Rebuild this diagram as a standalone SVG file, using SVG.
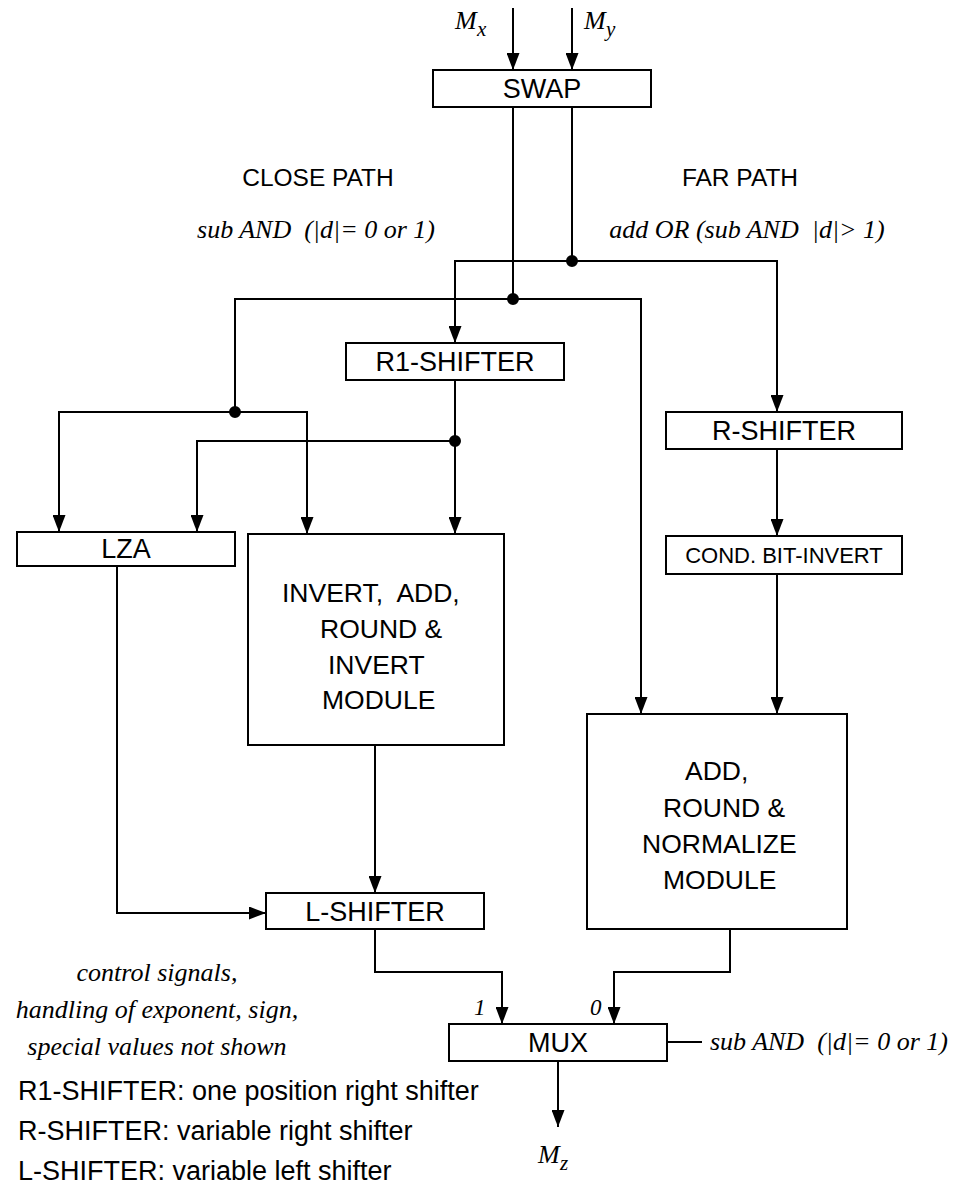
<svg xmlns="http://www.w3.org/2000/svg" width="963" height="1186" viewBox="0 0 963 1186">
  <style>
    .box { fill: #fff; stroke: #000; stroke-width: 2; }
    .lbl { font-family: "Liberation Sans", Arial, sans-serif; font-size: 27px; fill: #000; }
    .blk { font-size: 26.5px; }
    .small { font-size: 22px; }
    .head { font-size: 24.5px; }
    .it { font-family: "Liberation Serif", "Times New Roman", serif; font-style: italic; font-size: 26px; fill: #000; }
    .mvar { font-size: 26px; }
    .sub { font-size: 21px; }
    .num { font-size: 23px; }
    .wire { fill: none; stroke: #000; stroke-width: 2; }
    .dot { fill: #000; }
  </style>
  <defs>
    <marker id="arrow" markerUnits="userSpaceOnUse" viewBox="0 0 17 13" refX="17" refY="6.5" markerWidth="17" markerHeight="13" orient="auto">
      <path d="M0,0 L17,6.5 L0,13 z" fill="#000"/>
    </marker>
  </defs>
  <rect width="963" height="1186" fill="#fff"/>

  <!-- input / output operand labels -->
  <g id="label-mx">
    <text class="it mvar" x="455" y="29">M</text>
    <text class="it sub" x="477" y="36">x</text>
  </g>
  <g id="label-my">
    <text class="it mvar" x="584" y="29">M</text>
    <text class="it sub" x="606" y="36">y</text>
  </g>
  <g id="label-mz">
    <text class="it mvar" x="538" y="1163">M</text>
    <text class="it sub" x="560" y="1170">z</text>
  </g>

  <!-- path headings -->
  <g id="heading-close">
    <text class="lbl head" x="318" y="186" text-anchor="middle">CLOSE PATH</text>
    <text class="it" x="316" y="238" text-anchor="middle" xml:space="preserve">sub AND  (|d|= 0 or 1)</text>
  </g>
  <g id="heading-far">
    <text class="lbl head" x="740" y="186" text-anchor="middle">FAR PATH</text>
    <text class="it" x="747" y="238" text-anchor="middle" xml:space="preserve">add OR (sub AND  |d|&gt; 1)</text>
  </g>

  <!-- connectors -->
  <g id="connectors" class="wire">
    <path d="M513,8 V70" marker-end="url(#arrow)"/>
    <path d="M572,8 V70" marker-end="url(#arrow)"/>
    <!-- far path split -->
    <path d="M572,107 V261"/>
    <path d="M572,261 H455 V343" marker-end="url(#arrow)"/>
    <path d="M572,261 H777 V412" marker-end="url(#arrow)"/>
    <!-- close path split -->
    <path d="M513,107 V299"/>
    <path d="M513,299 H235 V412"/>
    <path d="M513,299 H641 V714" marker-end="url(#arrow)"/>
    <path d="M235,412 H59 V532" marker-end="url(#arrow)"/>
    <path d="M235,412 H307 V534" marker-end="url(#arrow)"/>
    <!-- R1-shifter outputs -->
    <path d="M455,380 V441"/>
    <path d="M455,441 V534" marker-end="url(#arrow)"/>
    <path d="M455,441 H197 V532" marker-end="url(#arrow)"/>
    <!-- far path chain -->
    <path d="M777,449 V536" marker-end="url(#arrow)"/>
    <path d="M777,574 V714" marker-end="url(#arrow)"/>
    <!-- close path chain -->
    <path d="M117,566 V913 H266" marker-end="url(#arrow)"/>
    <path d="M375,745 V893" marker-end="url(#arrow)"/>
    <!-- into the multiplexer -->
    <path d="M375,929 V972 H502 V1024" marker-end="url(#arrow)"/>
    <path d="M730,929 V972 H614 V1024" marker-end="url(#arrow)"/>
    <path d="M667,1042 H702"/>
    <path d="M558,1061 V1127" marker-end="url(#arrow)"/>
    <!-- junctions -->
    <circle class="dot" cx="572" cy="261" r="5"/>
    <circle class="dot" cx="513" cy="299" r="5"/>
    <circle class="dot" cx="235" cy="412" r="5"/>
    <circle class="dot" cx="455" cy="441" r="5"/>
  </g>

  <!-- blocks -->
  <g id="swap">
    <rect class="box" x="433" y="70" width="218" height="37"/>
    <text class="lbl" x="542" y="98" text-anchor="middle">SWAP</text>
  </g>
  <g id="r1-shifter">
    <rect class="box" x="346" y="343" width="218" height="37"/>
    <text class="lbl" x="455" y="371" text-anchor="middle">R1-SHIFTER</text>
  </g>
  <g id="r-shifter">
    <rect class="box" x="666" y="412" width="236" height="37"/>
    <text class="lbl" x="784" y="440" text-anchor="middle">R-SHIFTER</text>
  </g>
  <g id="cond-bit-invert">
    <rect class="box" x="666" y="536" width="236" height="38"/>
    <text class="lbl small" x="784" y="563" text-anchor="middle">COND. BIT-INVERT</text>
  </g>
  <g id="lza">
    <rect class="box" x="17" y="532" width="218" height="34"/>
    <text class="lbl" x="126" y="558" text-anchor="middle">LZA</text>
  </g>
  <g id="invert-add-round">
    <rect class="box" x="248" y="534" width="256" height="211"/>
    <text class="lbl blk" x="282" y="602" xml:space="preserve">INVERT,  ADD,</text>
    <text class="lbl blk" x="320" y="638">ROUND &amp;</text>
    <text class="lbl blk" x="328" y="674">INVERT</text>
    <text class="lbl blk" x="322" y="709">MODULE</text>
  </g>
  <g id="add-round-normalize">
    <rect class="box" x="587" y="714" width="260" height="215"/>
    <text class="lbl blk" x="685" y="780">ADD,</text>
    <text class="lbl blk" x="663" y="817">ROUND &amp;</text>
    <text class="lbl blk" x="642" y="853">NORMALIZE</text>
    <text class="lbl blk" x="663" y="889">MODULE</text>
  </g>
  <g id="l-shifter">
    <rect class="box" x="266" y="893" width="218" height="36"/>
    <text class="lbl" x="375" y="921" text-anchor="middle">L-SHIFTER</text>
  </g>
  <g id="mux">
    <rect class="box" x="449" y="1024" width="218" height="37"/>
    <text class="lbl" x="558" y="1052" text-anchor="middle">MUX</text>
    <text class="it num" x="474" y="1015">1</text>
    <text class="it num" x="590" y="1015">0</text>
    <text class="it" x="710" y="1050" xml:space="preserve">sub AND  (|d|= 0 or 1)</text>
  </g>

  <!-- notes -->
  <g id="note">
    <text class="it" x="157" y="981" text-anchor="middle">control signals,</text>
    <text class="it" x="157" y="1018" text-anchor="middle">handling of exponent, sign,</text>
    <text class="it" x="157" y="1055" text-anchor="middle">special values not shown</text>
  </g>
  <g id="legend">
    <text class="lbl" x="18" y="1100">R1-SHIFTER: one position right shifter</text>
    <text class="lbl" x="18" y="1140">R-SHIFTER: variable right shifter</text>
    <text class="lbl" x="18" y="1180">L-SHIFTER: variable left shifter</text>
  </g>
</svg>
